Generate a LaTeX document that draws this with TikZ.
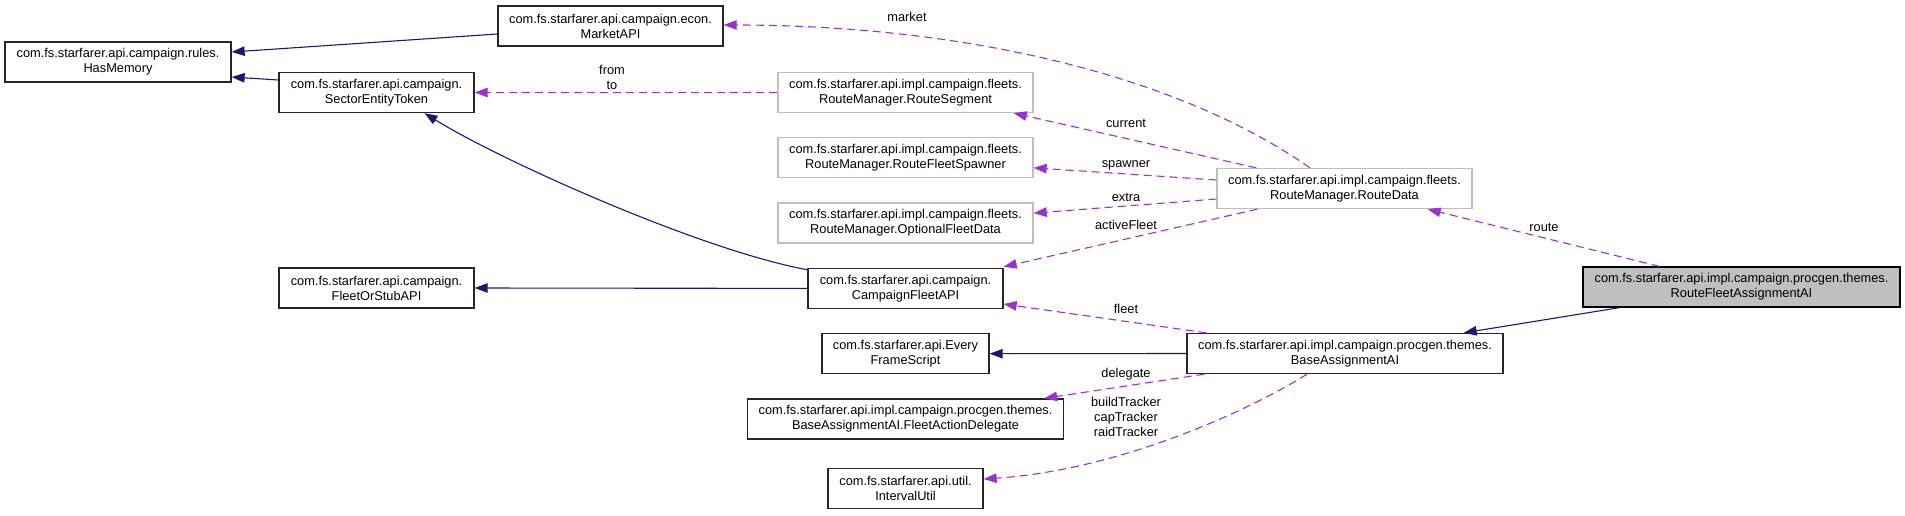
\documentclass[tikz,border=0pt]{standalone}
\usepackage{fontspec}
\setmainfont{Liberation Sans}
\usepackage{tikz}
\usetikzlibrary{arrows.meta, positioning}
\definecolor{inhcol}{RGB}{25,25,112}
\definecolor{usecol}{RGB}{153,50,204}
\definecolor{ghost}{RGB}{191,191,191}
\newcommand{\dxfont}{\fontsize{12.8pt}{15pt}\selectfont}
\tikzset{
    inherit/.style={draw=inhcol, line width=1.1pt, -{Triangle[length=13pt, width=9.5pt]}},
    usage/.style={draw=usecol, line width=1.1pt, dash pattern=on 8pt off 5pt, -{Triangle[length=13pt, width=9.5pt]}},
    cls/.style={draw=black!85, line width=1.3pt, fill=white, align=center, font=\dxfont, minimum height=40pt, inner sep=1pt},
    ghostcls/.style={cls, draw=ghost},
    lbl/.style={font=\dxfont, align=center, inner sep=0pt}
}

\begin{document}
\begin{tikzpicture}[x=1pt, y=-1pt, node distance=65.3pt]
    \useasboundingbox (0,0) rectangle (1905,515);
    % left and top classes
    \node (hasmem) [cls, minimum width=226pt] at (118,62) {com.fs.starfarer.api.campaign.rules.\\HasMemory};
    \node (set) [cls, minimum width=195pt] at (376.5,92.5) {com.fs.starfarer.api.campaign.\\SectorEntityToken};
    \node (stub) [cls, minimum width=195pt] at (376.5,288) {com.fs.starfarer.api.campaign.\\FleetOrStubAPI};
    \node (market) [cls, minimum width=225pt] at (610.5,26) {com.fs.starfarer.api.campaign.econ.\\MarketAPI};
    % middle column
    \node (segment) [ghostcls, minimum width=255pt] at (905.5,92.5) {com.fs.starfarer.api.impl.campaign.fleets.\\RouteManager.RouteSegment};
    \node (spawner) [ghostcls, below of=segment, minimum width=255pt] {com.fs.starfarer.api.impl.campaign.fleets.\\RouteManager.RouteFleetSpawner};
    \node (optional) [ghostcls, below of=spawner, minimum width=255pt] {com.fs.starfarer.api.impl.campaign.fleets.\\RouteManager.OptionalFleetData};
    \node (cfa) [cls, below of=optional, minimum width=195pt] {com.fs.starfarer.api.campaign.\\CampaignFleetAPI};
    \node (frame) [cls, below of=cfa, minimum width=167pt] {com.fs.starfarer.api.Every\\FrameScript};
    \node (delegate) [cls, below of=frame, minimum width=316pt] {com.fs.starfarer.api.impl.campaign.procgen.themes.\\BaseAssignmentAI.FleetActionDelegate};
    \node (interval) [cls, below of=delegate, node distance=69.5pt, minimum width=155pt] {com.fs.starfarer.api.util.\\IntervalUtil};
    % right classes
    \node (routedata) [ghostcls, minimum width=255pt] at (1344.5,188.5) {com.fs.starfarer.api.impl.campaign.fleets.\\RouteManager.RouteData};
    \node (base) [cls, minimum width=316pt] at (1345,353.5) {com.fs.starfarer.api.impl.campaign.procgen.themes.\\BaseAssignmentAI};
    \node (rfa) [cls, fill=ghost, draw=black, minimum width=317pt] at (1741.5,287) {com.fs.starfarer.api.impl.campaign.procgen.themes.\\RouteFleetAssignmentAI};

    % inheritance
    \draw [inherit] ([yshift=-8pt]market.west) -- ([yshift=10pt]hasmem.east);
    \draw [inherit] ([yshift=12.5pt]set.west) -- ([yshift=-15pt]hasmem.east);
    \draw [inherit] ([yshift=-2pt]cfa.north west) .. controls (700,250) and (500,160) .. ([xshift=48pt]set.south);
    \draw [inherit] (cfa.west) -- (stub.east);
    \draw [inherit] (base.west) -- (frame.east);
    \draw [inherit] ([xshift=37pt]rfa.south west) -- ([xshift=-40pt]base.north east);

    % usage
    \draw [usage] ([xshift=-34.5pt]routedata.north) .. controls (1170,70) and (950,25) .. ([yshift=1pt]market.east);
    \draw [usage] (segment.west) -- (set.east);
    \draw [usage] ([xshift=40pt]routedata.north west) -- ([xshift=-20pt]segment.south east);
    \draw [usage] ([yshift=8.5pt]routedata.west) -- ([yshift=-10pt]spawner.east);
    \draw [usage] ([yshift=-10.5pt]routedata.west) -- ([yshift=10pt]optional.east);
    \draw [usage] ([xshift=41pt]routedata.south west) -- ([yshift=1pt]cfa.north east);
    \draw [usage] ([xshift=77pt]rfa.north west) -- ([xshift=-45pt]routedata.south east);
    \draw [usage] ([xshift=20pt]base.north west) -- ([yshift=5pt]cfa.south east);
    \draw [usage] ([xshift=18pt]base.south west) -- ([xshift=-20pt]delegate.north east);
    \draw [usage] ([xshift=-38pt]base.south) .. controls (1250,410) and (1120,470) .. ([yshift=9.5pt]interval.east);

    % edge labels
    \node (lmarket) [lbl] at (907,17) {market};
    \node (lfromto) [lbl] at (612,77) {from\\to};
    \node (lcurrent) [lbl] at (1126,123) {current};
    \node (lspawner) [lbl] at (1126,165) {spawner};
    \node (lextra) [lbl] at (1126,197) {extra};
    \node (lactive) [lbl] at (1126,225) {activeFleet};
    \node (lroute) [lbl] at (1544,227) {route};
    \node (lfleet) [lbl] at (1126,309) {fleet};
    \node (ldelegate) [lbl] at (1126,374) {delegate};
    \node (ltrackers) [lbl] at (1126,417) {buildTracker\\capTracker\\raidTracker};
\end{tikzpicture}
\end{document}
